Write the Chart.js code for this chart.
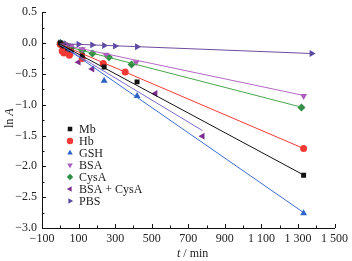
<!DOCTYPE html>
<html>
<head>
<meta charset="utf-8">
<script src="https://cdn.jsdelivr.net/npm/chart.js@4/dist/chart.umd.min.js"></script>
<style>
  body { margin: 0; background: #fff; }
  canvas { display: block; }
</style>
</head>
<body>
<canvas id="myChart" width="352" height="261"></canvas>
<script>
'use strict';

// tick values and labels
var xTicks = [-100, 100, 300, 500, 700, 900, 1100, 1300, 1500];
var xTickLabels = ['\u2212100', '100', '300', '500', '700', '900', '1 100', '1 300', '1 500'];
var xMinor = [0, 200, 400, 600, 800, 1000, 1200, 1400];
var yTicks = [-3, -2.5, -2, -1.5, -1, -0.5, 0, 0.5];
var yTickLabels = ['\u22123.0', '\u22122.5', '\u22122.0', '\u22121.5', '\u22121.0', '\u22120.5', '0.0', '0.5'];
var yMinor = [-2.75, -2.25, -1.75, -1.25, -0.75, -0.25, 0.25];

var seriesNames = ['Mb', 'Hb', 'GSH', 'BSA', 'CysA', 'BSA + CysA', 'PBS'];

// measured points (t / min, ln A)
var mbT = [0, 10, 20, 40, 60, 120, 240, 420, 1331];
var mbY = [0, -0.03, -0.05, -0.08, -0.11, -0.2, -0.39, -0.63, -2.145];
var hbT = [0, 10, 20, 50, 120, 235, 355, 1331];
var hbY = [-0.02, -0.13, -0.16, -0.2, -0.25, -0.33, -0.47, -1.71];
var gshT = [0, 10, 20, 40, 60, 120, 240, 420, 1331];
var gshY = [0, -0.04, -0.07, -0.1, -0.14, -0.26, -0.61, -0.86, -2.76];
var bsaT = [0, 10, 20, 40, 60, 120, 250, 415, 1331];
var bsaY = [0, -0.01, -0.02, -0.04, -0.05, -0.1, -0.19, -0.31, -0.86];
var cysT = [0, 10, 20, 40, 60, 120, 176, 266, 390, 1319];
var cysY = [0, -0.02, -0.03, -0.06, -0.08, -0.12, -0.17, -0.23, -0.35, -1.045];
var mixT = [0, 10, 20, 40, 60, 100, 175, 520, 778];
var mixY = [-0.02, -0.06, -0.08, -0.12, -0.16, -0.31, -0.42, -0.82, -1.51];
var pbsT = [0, 30, 100, 175, 240, 300, 420, 1375];
var pbsY = [0, -0.01, -0.02, -0.03, -0.04, -0.05, -0.06, -0.17];

// fitted lines: [t start, t end] and [ln A start, ln A end]
var fitT = [[0, 1331], [0, 1331], [0, 1331], [0, 1331], [0, 1319], [0, 778], [0, 1375]];
var fitY = [[-0.02, -2.14], [-0.02, -1.71], [-0.02, -2.75], [-0.02, -0.85], [-0.03, -1.04], [-0.03, -1.42], [-0.01, -0.17]];

var seriesT = [mbT, hbT, gshT, bsaT, cysT, mixT, pbsT];
var seriesY = [mbY, hbY, gshY, bsaY, cysY, mixY, pbsY];

var markerColors = ['#111111', '#f23a35', '#2d63c4', '#a95cbc', '#2f8c45', '#7c2e8f', '#5a4aa8'];
var lineColors = ['#111111', '#f23a35', '#3a6ccc', '#b468c4', '#4aa54a', '#7a6acc', '#6f4c9e'];
var markerStyles = ['rect', 'circle', 'triangle', 'triangle', 'rectRot', 'triangle', 'triangle'];
var markerRot = [0, 0, 0, 180, 0, -90, 90];
var markerRadius = [3.5, 3.5, 4, 4, 4, 4, 4];

var serif = '"Liberation Serif", "DejaVu Serif", serif';

function pts(ts, ys) {
    return ts.map(function(t, i) { return {x: t, y: ys[i]}; });
}

var datasets = [];
seriesNames.forEach(function(name, i) {
    datasets.push({
        label: name + ' fit',
        data: pts(fitT[i], fitY[i]),
        showLine: true,
        borderColor: lineColors[i],
        borderWidth: 1,
        pointRadius: 0,
        fill: false
    });
});
seriesNames.forEach(function(name, i) {
    datasets.push({
        label: name,
        data: pts(seriesT[i], seriesY[i]),
        showLine: false,
        pointStyle: markerStyles[i],
        rotation: markerRot[i],
        pointRadius: markerRadius[i],
        backgroundColor: markerColors[i],
        borderColor: markerColors[i],
        borderWidth: 0
    });
});

var decor = {
    id: 'decor',
    afterDraw: function(chart) {
        var ctx = chart.ctx;
        var xs = chart.scales.x, ys = chart.scales.y;
        var area = chart.chartArea;
        ctx.save();
        ctx.strokeStyle = '#111';
        ctx.lineWidth = 1;
        ctx.beginPath();
        xTicks.forEach(function(v) {
            var px = Math.round(xs.getPixelForValue(v)) + 0.5;
            ctx.moveTo(px, area.bottom); ctx.lineTo(px, area.bottom - 4);
        });
        xMinor.forEach(function(v) {
            var px = Math.round(xs.getPixelForValue(v)) + 0.5;
            ctx.moveTo(px, area.bottom); ctx.lineTo(px, area.bottom - 2.5);
        });
        yTicks.forEach(function(v) {
            var py = Math.round(ys.getPixelForValue(v)) + 0.5;
            ctx.moveTo(area.left, py); ctx.lineTo(area.left + 4, py);
        });
        yMinor.forEach(function(v) {
            var py = Math.round(ys.getPixelForValue(v)) + 0.5;
            ctx.moveTo(area.left, py); ctx.lineTo(area.left + 2.5, py);
        });
        ctx.stroke();

        // legend
        ctx.textBaseline = 'middle';
        ctx.textAlign = 'left';
        ctx.font = '12px ' + serif;
        seriesNames.forEach(function(name, i) {
            var y = 129 + i * 12;
            ctx.fillStyle = markerColors[i];
            Chart.helpers.drawPoint(ctx, {
                pointStyle: markerStyles[i], rotation: markerRot[i],
                radius: 3.2, borderWidth: 0
            }, 70, y);
            ctx.fillStyle = '#222';
            ctx.fillText(name, 79, y + 0.5);
        });

        // axis titles
        ctx.fillStyle = '#222';
        ctx.textBaseline = 'alphabetic';
        var x0 = 177, yb = 257;
        ctx.font = 'italic 12px ' + serif;
        ctx.fillText('t', x0, yb);
        var w = ctx.measureText('t').width;
        ctx.font = '12px ' + serif;
        ctx.fillText(' / min', x0 + w, yb);

        ctx.translate(13, 128);
        ctx.rotate(-Math.PI / 2);
        ctx.font = '12px ' + serif;
        ctx.fillText('ln ', 0, 0);
        w = ctx.measureText('ln ').width;
        ctx.font = 'italic 12px ' + serif;
        ctx.fillText('A', w, 0);
        ctx.restore();
    }
};

new Chart(document.getElementById('myChart').getContext('2d'), {
    type: 'scatter',
    data: {datasets: datasets},
    plugins: [decor],
    options: {
        responsive: false,
        animation: false,
        layout: {padding: {left: 0, top: 10, right: 16, bottom: 0}},
        plugins: {legend: {display: false}, tooltip: {enabled: false}},
        scales: {
            x: {
                type: 'linear', min: -100, max: 1500,
                afterBuildTicks: function(s) { s.ticks = xTicks.map(function(v) { return {value: v}; }); },
                afterFit: function(s) { s.height = 33; },
                grid: {display: true, drawOnChartArea: false, drawTicks: false},
                border: {display: true, color: '#111', width: 1},
                ticks: {
                    padding: 4, color: '#222', maxRotation: 0, autoSkip: false,
                    font: {family: serif, size: 12},
                    callback: function(v) { var i = xTicks.indexOf(v); return i < 0 ? '' : xTickLabels[i]; }
                }
            },
            y: {
                type: 'linear', min: -3, max: 0.5,
                afterBuildTicks: function(s) { s.ticks = yTicks.map(function(v) { return {value: v}; }); },
                afterFit: function(s) { s.width = 42; },
                grid: {display: true, drawOnChartArea: false, drawTicks: false},
                border: {display: true, color: '#111', width: 1},
                ticks: {
                    padding: 5, color: '#222', autoSkip: false,
                    font: {family: serif, size: 12},
                    callback: function(v) { var i = yTicks.indexOf(v); return i < 0 ? '' : yTickLabels[i]; }
                }
            }
        }
    }
});
</script>
</body>
</html>
